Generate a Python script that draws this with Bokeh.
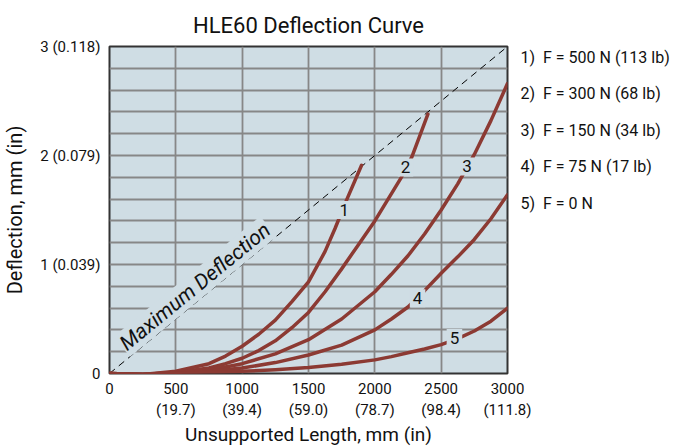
from bokeh.plotting import figure
from bokeh.models import Range1d, FixedTicker, Label, LinearAxis
from bokeh.embed import file_html
from bokeh.resources import INLINE
import math

# ---- data (mm) ----
curve1_x = [0, 250, 500, 750, 875, 1000, 1125, 1250, 1375, 1500, 1625, 1700, 1790, 1900]
curve1_y = [0, -0.01, 0.02, 0.09, 0.16, 0.25, 0.36, 0.49, 0.66, 0.84, 1.12, 1.33, 1.60, 1.91]
curve2_x = [0, 250, 500, 750, 875, 1000, 1125, 1250, 1375, 1500, 1625, 1750, 1875, 2000,
            2100, 2200, 2280, 2400]
curve2_y = [0, -0.01, 0.01, 0.05, 0.09, 0.14, 0.21, 0.30, 0.42, 0.56, 0.75, 0.96, 1.18, 1.40,
            1.60, 1.80, 1.99, 2.38]
curve345_x = [0, 250, 500, 750, 1000, 1250, 1500, 1750, 2000, 2125, 2250, 2375, 2500, 2625,
              2750, 2875, 3000]
curve3_y = [0, -0.01, 0.01, 0.03, 0.09, 0.18, 0.31, 0.50, 0.75, 0.91, 1.08, 1.28, 1.50, 1.74,
            2.01, 2.32, 2.66]
curve4_y = [0, -0.01, 0.0, 0.02, 0.05, 0.10, 0.17, 0.26, 0.40, 0.50, 0.61, 0.76, 0.92, 1.07,
            1.23, 1.42, 1.64]
curve5_y = [0, -0.01, 0.0, 0.01, 0.02, 0.035, 0.055, 0.085, 0.125, 0.155, 0.19, 0.225, 0.265,
            0.32, 0.39, 0.48, 0.60]
max_defl_x = [0, 3000]
max_defl_y = [0, 3]

x_ticks = [0, 500, 1000, 1500, 2000, 2500, 3000]
x_tick_labels = ["0", "500\n(19.7)", "1000\n(39.4)", "1500\n(59.0)", "2000\n(78.7)",
                 "2500\n(98.4)", "3000\n(111.8)"]
y_ticks = [0, 1, 2, 3]
y_tick_labels = ["0", "1 (0.039)", "2 (0.079)", "3 (0.118)"]
legend_labels = ["1)\u00a0 F = 500 N (113 lb)", "2)\u00a0 F = 300 N (68 lb)",
                 "3)\u00a0 F = 150 N (34 lb)", "4)\u00a0 F = 75 N (17 lb)", "5)\u00a0 F = 0 N"]
legend_rows = [2.9, 2.565, 2.23, 1.895, 1.56]
curve_names = ["1", "2", "3", "4", "5"]

FONT = "Roboto"
BG = "#CFDDE4"
RED = "#8C3A33"
INK = "#111111"

p = figure(frame_width=398, frame_height=327, output_backend="svg", toolbar_location=None,
           x_range=Range1d(0, 3000), y_range=Range1d(0, 3),
           min_border_left=107, min_border_right=10, min_border_top=46, min_border_bottom=58)
p.background_fill_color = BG
p.border_fill_color = "white"
p.outline_line_color = "#333333"
p.outline_line_width = 2

p.title.text = "HLE60 Deflection Curve"
p.title.align = "center"
p.title.vertical_align = "top"
p.title.text_font = FONT
p.title.text_font_size = "22px"
p.title.text_font_style = "normal"
p.title.text_color = INK
p.title.standoff = 14

p.xaxis.ticker = FixedTicker(ticks=x_ticks)
p.xaxis.major_label_overrides = dict(zip(x_ticks, x_tick_labels))
p.yaxis.ticker = FixedTicker(ticks=y_ticks)
p.yaxis.major_label_overrides = dict(zip(y_ticks, y_tick_labels))

# legend texts as labels of a right-hand axis
legend_axis = LinearAxis(ticker=FixedTicker(ticks=legend_rows),
                         major_label_overrides=dict(zip(legend_rows, legend_labels)))
p.add_layout(legend_axis, "right")

for ax in (p.xaxis[0], p.yaxis[0], legend_axis):
    ax.axis_line_color = None
    ax.major_tick_line_color = None
    ax.minor_tick_line_color = None
    ax.major_label_text_font = FONT
    ax.major_label_text_font_size = "15px"
    ax.major_label_text_color = INK
    ax.axis_label_text_font = FONT
    ax.axis_label_text_font_size = "19px"
    ax.axis_label_text_font_style = "normal"
    ax.axis_label_text_color = INK
p.yaxis[0].axis_label_text_font_size = "20px"
legend_axis.major_label_text_font_size = "16px"
legend_axis.major_label_standoff = 7
p.xaxis[0].axis_label = "Unsupported Length, mm (in)"
p.yaxis[0].axis_label = "Deflection, mm (in)"
p.xaxis[0].major_label_standoff = 0
p.yaxis[0].major_label_standoff = 3
p.xaxis[0].axis_label_standoff = 1
p.yaxis[0].axis_label_standoff = 10

p.xgrid.ticker = FixedTicker(ticks=x_ticks)
p.ygrid.ticker = FixedTicker(ticks=[i * 0.2 for i in range(16)])
p.grid.grid_line_color = "#878787"
p.grid.grid_line_width = 1.8

p.line(max_defl_x, max_defl_y, line_color="black", line_width=1, line_dash="7 5")

for xs, ys in [(curve1_x, curve1_y), (curve2_x, curve2_y), (curve345_x, curve3_y),
               (curve345_x, curve4_y), (curve345_x, curve5_y)]:
    p.line(xs, ys, line_color=RED, line_width=3.5, line_cap="round", line_join="round")

# Maximum deflection text
ang = math.atan2(327, 398)
p.add_layout(Label(x=93, y=0.245, text="Maximum Deflection", angle=ang,
                   text_font=FONT, text_font_size="21px", text_font_style="italic",
                   text_color=INK, text_baseline="alphabetic", text_align="left",
                   background_fill_color=BG, background_fill_alpha=1.0, padding=1,
                   border_line_color=None))

# curve number labels
label_pos = [(1769, 1.50), (2231, 1.89), (2694, 1.90), (2322, 0.69), (2600, 0.325)]
for name, (lx, ly) in zip(curve_names, label_pos):
    p.add_layout(Label(x=lx, y=ly, text=name, text_font=FONT, text_font_size="17px",
                       text_color=INK, text_align="center", text_baseline="middle",
                       background_fill_color=BG, background_fill_alpha=1.0, padding=3,
                       border_line_color=None))

open("out.html", "w").write(file_html(p, INLINE))
